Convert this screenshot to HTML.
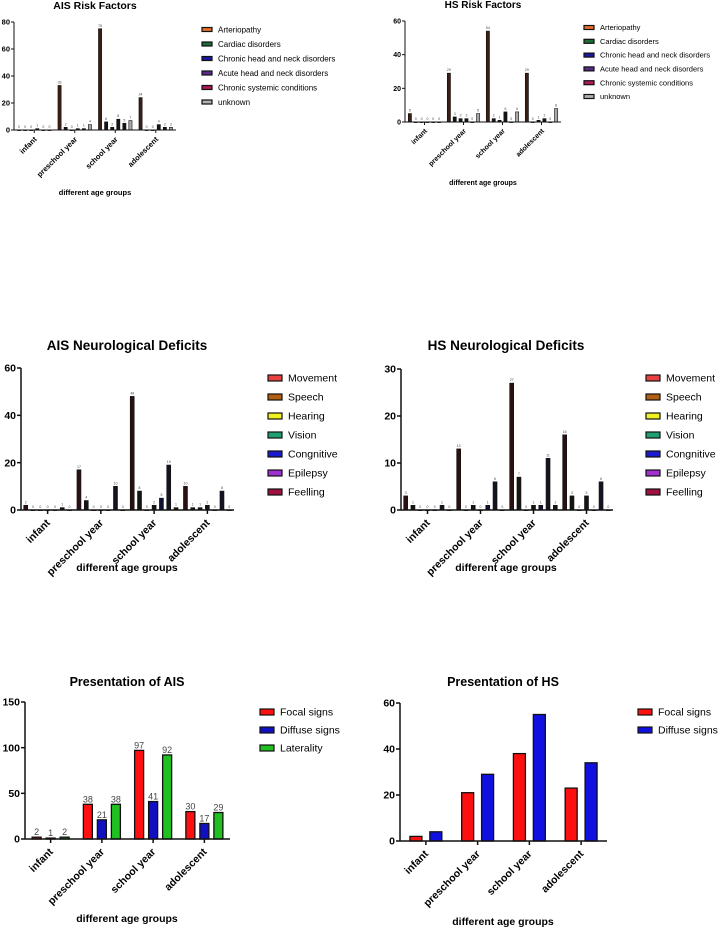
<!DOCTYPE html>
<html><head><meta charset="utf-8"><style>
body{margin:0;background:#fff;width:726px;height:929px;overflow:hidden}
svg{display:block;font-family:"Liberation Sans",sans-serif}
</style></head><body>
<svg id="fig" width="726" height="929"></svg>
<script>
const groups=["infant","preschool year","school year","adolescent"];
const riskSeries=["Arteriopathy","Cardiac disorders","Chronic head and neck disorders","Acute head and neck disorders","Chronic systemic conditions","unknown"];
const riskLegendColors=["#e8702a","#1e6b3a","#1a1aa0","#5a2a8a","#b0185a","#b0b0b0"];
const riskFill=["#3a1e14","#141414","#141414","#141414","#141414","#a8a8a8"];
const aisRisk=[[0,0,0,1,0,0],[33,2,0,1,1,4],[75,6,2,8,5,7],[24,0,0,4,2,2]];
const hsRisk=[[5,0,0,0,0,0],[29,3,2,2,0,5],[54,2,1,6,0,6],[29,0,1,2,0,8]];
const neuroSeries=["Movement","Speech","Hearing","Vision","Congnitive","Epilepsy","Feelling"];
const neuroLegendColors=["#e84040","#b06010","#f0f020","#20a070","#1a1ad0","#a030d0","#a01040"];
const neuroFill=["#2a1010","#141414","#141414","#141414","#101030","#141420","#141414"];
const aisNeuro=[[2,0,0,0,0,1,0],[17,4,0,0,0,10,0],[48,8,0,2,5,19,1],[10,1,1,2,0,8,0]];
const hsNeuro=[[3,1,0,0,0,1,0],[13,0,1,0,1,6,0],[27,7,0,1,1,11,1],[16,3,0,3,0,6,0]];
const presAisSeries=["Focal signs","Diffuse signs","Laterality"];
const presAisColors=["#ff1010","#1010c0","#20c020"];
const aisFocal=[2,38,97,30];
const aisDiffuse=[1,21,41,17];
const aisLaterality=[2,38,92,29];
const presHsSeries=["Focal signs","Diffuse signs"];
const presHsColors=["#ff1010","#1010e0"];
const hsFocal=[2,21,38,23];
const hsDiffuse=[4,29,55,34];
const aisRiskTicks=[0,20,40,60,80];
const hsRiskTicks=[0,20,40,60];
const aisNeuroTicks=[0,20,40,60];
const hsNeuroTicks=[0,10,20,30];
const aisPresTicks=[0,50,100,150];
const hsPresTicks=[0,20,40,60];

const NS="http://www.w3.org/2000/svg";
const fig=document.getElementById('fig');
function mk(tag,attrs,parent,txt){const e=document.createElementNS(NS,tag);for(const k in attrs)e.setAttribute(k,attrs[k]);if(txt!==undefined)e.textContent=txt;(parent||fig).appendChild(e);return e;}

function chart(c){
  const g=mk('g',{});
  
  
  const t=mk('text',{x:c.tx,y:c.ty,'font-size':c.titleSize,'font-weight':'bold','text-anchor':'middle'},g,c.title);
  
  
  const ymax=c.ticks[c.ticks.length-1];
  const ys=v=>c.y0-(v/ymax)*(c.y0-c.y1);
  const gw=(c.x1-c.x0)/groups.length;
  const n=c.data[0].length;
  for(let gi=0;gi<groups.length;gi++){
    const cx=c.x0+gw*(gi+0.5);
    const slot=gw*c.slotFrac/n;
    for(let s=0;s<n;s++){
      const v=c.data[gi][s];
      const bx=cx+(s-(n-1)/2)*slot-c.bw/2;
      const by=ys(v);
      const r=mk('rect',{x:bx,y:by,width:c.bw,height:Math.max(c.y0-by,0.6),fill:c.fill[s],stroke:'#111','stroke-width':c.sw},g);
      
      
      if(c.labelSize){
        const l=mk('text',{x:bx+c.bw/2,y:by-2,'font-size':c.labelSize,'text-anchor':'middle',fill:'#444'},g,String(v));
        
        
      }
    }
    mk('line',{x1:cx,x2:cx,y1:c.y0,y2:c.y0+c.tick,stroke:'#111','stroke-width':c.aw},g);
    const tl=mk('text',{x:cx+3,y:c.y0+c.tick+c.tickSize*0.9,'font-size':c.tickSize,'font-weight':'bold','text-anchor':'end',transform:`rotate(-45 ${cx+3} ${c.y0+c.tick+c.tickSize*0.9})`},g,groups[gi]);
    
    
  }
  mk('line',{x1:c.x0,x2:c.x0,y1:c.y1,y2:c.y0,stroke:'#111','stroke-width':c.aw},g);
  mk('line',{x1:c.x0,x2:c.x1,y1:c.y0,y2:c.y0,stroke:'#111','stroke-width':c.aw},g);
  c.ticks.forEach(v=>{
    const y=ys(v);
    mk('line',{x1:c.x0-c.tick,x2:c.x0,y1:y,y2:y,stroke:'#111','stroke-width':c.aw},g);
    const yl=mk('text',{x:c.x0-c.tick-1,y:y+c.tickSize*0.35,'font-size':c.tickSize,'font-weight':'bold','text-anchor':'end'},g,String(v));
    
    
  });
  const xt=mk('text',{x:c.tx,y:c.xty,'font-size':c.tickSize,'font-weight':'bold','text-anchor':'middle'},g,'different age groups');
  
  
  c.series.forEach((s,i)=>{
    const y=c.ly+i*c.lsp;
    const le=mk('g',{},g);
    
    
    mk('rect',{x:c.lx,y:y-c.swH/2,width:c.swW,height:c.swH,fill:c.lcol[i],stroke:'#111','stroke-width':1.2},le);
    mk('text',{x:c.lx+c.swW+6,y:y+c.lfs*0.35,'font-size':c.lfs},le,s);
  });
}

chart({name:'ais-risk-chart',title:'AIS Risk Factors',tx:95,ty:9,titleSize:10.5,x0:14,x1:176,y0:130,y1:22,ticks:aisRiskTicks,data:aisRisk,fill:riskFill,bw:3.2,slotFrac:0.9,sw:0.6,aw:1,tick:3,tickSize:7.5,labelSize:3.5,xty:195,series:riskSeries,lcol:riskLegendColors,lx:202,ly:29.5,lsp:14.5,swW:10,swH:4,lfs:8});
chart({name:'hs-risk-chart',title:'HS Risk Factors',tx:483,ty:8,titleSize:10,x0:405,x1:561,y0:122,y1:21,ticks:hsRiskTicks,data:hsRisk,fill:riskFill,bw:3.2,slotFrac:0.9,sw:0.6,aw:1,tick:3,tickSize:7,labelSize:3.5,xty:185,series:riskSeries,lcol:riskLegendColors,lx:584,ly:27.5,lsp:13.8,swW:10,swH:4,lfs:7.5});
chart({name:'ais-neuro-chart',title:'AIS Neurological Deficits',tx:127,ty:350,titleSize:13.5,x0:21,x1:234,y0:510,y1:368,ticks:aisNeuroTicks,data:aisNeuro,fill:neuroFill,bw:4,slotFrac:0.96,sw:0.6,aw:1.5,tick:4,tickSize:10.5,labelSize:3.5,xty:571,series:neuroSeries,lcol:neuroLegendColors,lx:268,ly:378,lsp:19,swW:14,swH:6,lfs:10.5});
chart({name:'hs-neuro-chart',title:'HS Neurological Deficits',tx:506,ty:350,titleSize:13.5,x0:401,x1:613,y0:510,y1:369,ticks:hsNeuroTicks,data:hsNeuro,fill:neuroFill,bw:4,slotFrac:0.96,sw:0.6,aw:1.5,tick:4,tickSize:10.5,labelSize:3.5,xty:571,series:neuroSeries,lcol:neuroLegendColors,lx:646,ly:378,lsp:19,swW:14,swH:6,lfs:10.5});
chart({name:'ais-presentation-chart',title:'Presentation of AIS',tx:127,ty:686,titleSize:12.5,x0:25,x1:230,y0:839,y1:702,ticks:aisPresTicks,data:groups.map((_,i)=>[aisFocal[i],aisDiffuse[i],aisLaterality[i]]),fill:presAisColors,bw:9,slotFrac:0.82,sw:1.3,aw:1.5,tick:4,tickSize:10.5,labelSize:9,xty:922,series:presAisSeries,lcol:presAisColors,lx:260,ly:712,lsp:18,swW:14,swH:6,lfs:10.5});
chart({name:'hs-presentation-chart',title:'Presentation of HS',tx:503,ty:686,titleSize:12.5,x0:400,x1:607,y0:841,y1:703,ticks:hsPresTicks,data:groups.map((_,i)=>[hsFocal[i],hsDiffuse[i]]),fill:presHsColors,bw:12,slotFrac:0.77,sw:1.3,aw:1.5,tick:4,tickSize:10.5,labelSize:0,xty:925,series:presHsSeries,lcol:presHsColors,lx:638,ly:712,lsp:18,swW:14,swH:6,lfs:10.5});
</script>
</body></html>
